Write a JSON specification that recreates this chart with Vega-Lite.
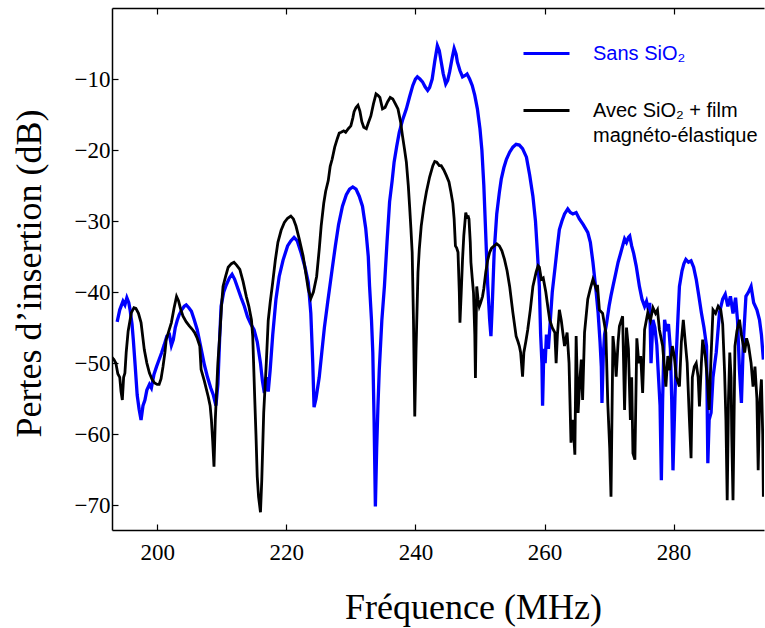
{
  "$schema": "https://vega.github.io/schema/vega-lite/v6.json",
  "width": 652,
  "height": 522,
  "autosize": {"type": "none"},
  "padding": {"left": 112, "top": 8, "right": 1, "bottom": 98},
  "background": "white",
  "config": {
    "view": {"stroke": null},
    "axis": {"domainColor": "#000", "domainWidth": 1.5, "tickColor": "#000", "tickWidth": 1.2, "grid": false, "labelColor": "#000", "titleColor": "#000", "labelFont": "Liberation Serif", "titleFont": "Liberation Serif", "titleFontWeight": "normal"}
  },
  "datasets": {
    "sans": [
      {"f":193.8,"v":-44.2},{"f":194.2,"v":-42.5},{"f":194.7,"v":-41.3},{"f":195.0,"v":-41.8},{"f":195.3,"v":-40.8},{"f":195.6,"v":-41.5},{"f":195.8,"v":-42.5},{"f":196.1,"v":-44.5},{"f":196.3,"v":-46.7},{"f":196.6,"v":-50.5},{"f":196.9,"v":-54.5},{"f":197.2,"v":-56.5},{"f":197.5,"v":-58},{"f":197.8,"v":-56},{"f":198.1,"v":-55.2},{"f":198.4,"v":-53.8},{"f":198.8,"v":-53},{"f":199.1,"v":-53.5},{"f":199.5,"v":-51.6},{"f":199.9,"v":-50.5},{"f":200.3,"v":-49.5},{"f":200.7,"v":-48.5},{"f":201.1,"v":-47.4},{"f":201.5,"v":-46.2},{"f":201.9,"v":-46},{"f":202.2,"v":-47.5},{"f":202.5,"v":-46.7},{"f":202.8,"v":-45},{"f":203.1,"v":-44},{"f":203.4,"v":-43.2},{"f":203.8,"v":-42.5},{"f":204.2,"v":-42},{"f":204.5,"v":-41.8},{"f":204.9,"v":-42.2},{"f":205.3,"v":-42.7},{"f":205.7,"v":-43.8},{"f":206.2,"v":-45.3},{"f":206.7,"v":-47.5},{"f":207.3,"v":-50.2},{"f":207.8,"v":-52},{"f":208.3,"v":-53.5},{"f":208.7,"v":-54.5},{"f":209.1,"v":-56},{"f":209.4,"v":-53},{"f":209.7,"v":-46},{"f":209.9,"v":-42},{"f":210.3,"v":-40},{"f":210.7,"v":-39},{"f":211.2,"v":-38},{"f":211.6,"v":-37.5},{"f":212.0,"v":-38.2},{"f":212.5,"v":-39.5},{"f":213.0,"v":-40.8},{"f":213.5,"v":-42},{"f":214.0,"v":-43.5},{"f":214.5,"v":-44.5},{"f":215.0,"v":-45.3},{"f":215.5,"v":-47},{"f":216.0,"v":-50},{"f":216.3,"v":-52.5},{"f":216.6,"v":-54.2},{"f":216.9,"v":-52},{"f":217.2,"v":-54},{"f":217.5,"v":-51},{"f":217.9,"v":-46},{"f":218.4,"v":-41},{"f":218.9,"v":-37.8},{"f":219.5,"v":-35.5},{"f":220.2,"v":-33.5},{"f":220.7,"v":-32.8},{"f":221.2,"v":-32.3},{"f":221.7,"v":-32.8},{"f":222.3,"v":-34.5},{"f":222.9,"v":-36.5},{"f":223.4,"v":-38.6},{"f":223.8,"v":-43},{"f":224.1,"v":-50},{"f":224.3,"v":-56.2},{"f":224.6,"v":-55},{"f":225.1,"v":-52},{"f":225.5,"v":-48.5},{"f":225.9,"v":-45},{"f":226.4,"v":-41.5},{"f":227.1,"v":-36.8},{"f":227.6,"v":-33.5},{"f":228.1,"v":-30.5},{"f":228.7,"v":-27.9},{"f":229.3,"v":-26.3},{"f":229.8,"v":-25.5},{"f":230.3,"v":-25.2},{"f":230.8,"v":-25.5},{"f":231.3,"v":-26.5},{"f":231.8,"v":-27.9},{"f":232.3,"v":-31},{"f":232.7,"v":-35},{"f":232.9,"v":-39.2},{"f":233.2,"v":-44},{"f":233.4,"v":-48.5},{"f":233.6,"v":-58},{"f":233.8,"v":-70.2},{"f":234.0,"v":-62},{"f":234.2,"v":-56},{"f":234.4,"v":-51},{"f":234.8,"v":-44},{"f":235.2,"v":-39.2},{"f":235.6,"v":-33},{"f":236.0,"v":-27.3},{"f":236.4,"v":-24.3},{"f":236.7,"v":-21.7},{"f":237.1,"v":-19.5},{"f":237.5,"v":-17.5},{"f":238.0,"v":-15.8},{"f":238.6,"v":-14.2},{"f":239.1,"v":-12.5},{"f":239.6,"v":-10.9},{"f":240.0,"v":-10},{"f":240.3,"v":-9.7},{"f":240.7,"v":-10},{"f":241.1,"v":-10.4},{"f":241.5,"v":-11.1},{"f":241.9,"v":-11.6},{"f":242.2,"v":-11.2},{"f":242.6,"v":-10},{"f":243.0,"v":-7.5},{"f":243.4,"v":-5.3},{"f":243.7,"v":-6},{"f":244.0,"v":-7.6},{"f":244.3,"v":-9.2},{"f":244.7,"v":-10.7},{"f":245.0,"v":-10.2},{"f":245.3,"v":-9},{"f":245.7,"v":-7},{"f":246.0,"v":-5.7},{"f":246.3,"v":-6.5},{"f":246.5,"v":-7.6},{"f":246.9,"v":-8.8},{"f":247.3,"v":-9.7},{"f":247.7,"v":-9.5},{"f":248.0,"v":-9.3},{"f":248.4,"v":-10},{"f":248.8,"v":-10.9},{"f":249.2,"v":-12.3},{"f":249.6,"v":-14.2},{"f":250.0,"v":-17},{"f":250.3,"v":-20},{"f":250.6,"v":-25},{"f":250.9,"v":-32},{"f":251.2,"v":-39},{"f":251.5,"v":-43.9},{"f":251.7,"v":-46.2},{"f":251.9,"v":-42},{"f":252.2,"v":-34.4},{"f":252.6,"v":-29},{"f":253.0,"v":-26},{"f":253.3,"v":-24.1},{"f":253.7,"v":-22.5},{"f":254.1,"v":-21.3},{"f":254.6,"v":-20.3},{"f":255.1,"v":-19.6},{"f":255.6,"v":-19.2},{"f":256.1,"v":-19.3},{"f":256.6,"v":-19.8},{"f":257.2,"v":-21},{"f":257.7,"v":-23.5},{"f":258.2,"v":-26.5},{"f":258.6,"v":-30},{"f":258.9,"v":-34.4},{"f":259.2,"v":-39.2},{"f":259.4,"v":-46},{"f":259.6,"v":-50},{"f":259.7,"v":-56},{"f":259.9,"v":-48},{"f":260.1,"v":-50},{"f":260.3,"v":-46},{"f":260.6,"v":-48},{"f":260.9,"v":-44},{"f":261.2,"v":-40},{"f":261.6,"v":-36.8},{"f":262.0,"v":-33.5},{"f":262.3,"v":-31.2},{"f":262.7,"v":-30},{"f":263.1,"v":-29},{"f":263.6,"v":-28.3},{"f":264.0,"v":-28.8},{"f":264.4,"v":-29},{"f":264.9,"v":-28.8},{"f":265.4,"v":-29.7},{"f":266.0,"v":-30.5},{"f":266.7,"v":-31.6},{"f":267.1,"v":-33},{"f":267.5,"v":-35.8},{"f":268.0,"v":-40},{"f":268.3,"v":-42.9},{"f":268.6,"v":-47},{"f":268.8,"v":-50.5},{"f":268.9,"v":-55.6},{"f":269.1,"v":-49},{"f":269.3,"v":-46},{"f":269.6,"v":-44.5},{"f":270.0,"v":-42},{"f":270.3,"v":-40.5},{"f":270.6,"v":-39.2},{"f":271.0,"v":-37.5},{"f":271.4,"v":-35.8},{"f":271.8,"v":-34.5},{"f":272.1,"v":-33.5},{"f":272.4,"v":-32.5},{"f":272.7,"v":-33},{"f":273.0,"v":-32.3},{"f":273.2,"v":-32.1},{"f":273.5,"v":-33.5},{"f":273.8,"v":-34.5},{"f":274.2,"v":-36.3},{"f":274.7,"v":-39.2},{"f":275.1,"v":-41},{"f":275.5,"v":-42},{"f":275.8,"v":-41.3},{"f":276.1,"v":-42.5},{"f":276.3,"v":-41.5},{"f":276.5,"v":-50},{"f":276.8,"v":-43.9},{"f":277.1,"v":-45},{"f":277.4,"v":-47.5},{"f":277.6,"v":-51},{"f":277.9,"v":-56},{"f":278.1,"v":-66.5},{"f":278.3,"v":-55},{"f":278.6,"v":-43.9},{"f":278.9,"v":-45.5},{"f":279.2,"v":-44.5},{"f":279.5,"v":-48},{"f":279.7,"v":-55},{"f":279.9,"v":-65.1},{"f":280.2,"v":-55},{"f":280.4,"v":-49},{"f":280.7,"v":-43},{"f":280.9,"v":-39.2},{"f":281.3,"v":-37},{"f":281.6,"v":-36},{"f":281.9,"v":-35.4},{"f":282.3,"v":-35.8},{"f":282.7,"v":-35.6},{"f":283.1,"v":-36.5},{"f":283.5,"v":-38.2},{"f":283.9,"v":-40.5},{"f":284.3,"v":-42.9},{"f":284.7,"v":-45},{"f":285.1,"v":-47.6},{"f":285.3,"v":-64.1},{"f":285.5,"v":-58},{"f":285.8,"v":-57},{"f":286.1,"v":-52},{"f":286.6,"v":-48.5},{"f":287.1,"v":-42.9},{"f":287.6,"v":-41},{"f":288.0,"v":-40.3},{"f":288.4,"v":-42},{"f":288.8,"v":-40.6},{"f":289.2,"v":-43},{"f":289.6,"v":-40.8},{"f":289.9,"v":-44},{"f":290.2,"v":-51},{"f":290.5,"v":-55.6},{"f":290.8,"v":-47},{"f":291.2,"v":-40.6},{"f":291.6,"v":-40},{"f":292.0,"v":-39.2},{"f":292.4,"v":-41.5},{"f":292.9,"v":-42.5},{"f":293.3,"v":-43.9},{"f":293.6,"v":-46},{"f":293.9,"v":-49.5}
    ],
    "avec": [
      {"f":192.9,"v":-49.1},{"f":193.3,"v":-49.5},{"f":193.6,"v":-50},{"f":193.9,"v":-51.5},{"f":194.2,"v":-52},{"f":194.4,"v":-54},{"f":194.6,"v":-55.2},{"f":194.8,"v":-52},{"f":195.0,"v":-51.4},{"f":195.2,"v":-48.5},{"f":195.5,"v":-45.5},{"f":196.0,"v":-42.9},{"f":196.4,"v":-42.2},{"f":196.7,"v":-42.3},{"f":197.1,"v":-43},{"f":197.5,"v":-44.3},{"f":198.0,"v":-48.1},{"f":198.4,"v":-50},{"f":198.8,"v":-51.4},{"f":199.2,"v":-52.3},{"f":199.6,"v":-52.8},{"f":200.0,"v":-53},{"f":200.3,"v":-53},{"f":200.6,"v":-52.2},{"f":200.9,"v":-50.5},{"f":201.2,"v":-48.5},{"f":201.4,"v":-46.7},{"f":201.8,"v":-45.5},{"f":202.2,"v":-44.3},{"f":202.6,"v":-42.3},{"f":203.0,"v":-40.6},{"f":203.3,"v":-41.2},{"f":203.6,"v":-42.3},{"f":204.0,"v":-43.4},{"f":204.5,"v":-44.2},{"f":205.0,"v":-44.8},{"f":205.4,"v":-45.2},{"f":205.8,"v":-45.7},{"f":206.2,"v":-46.5},{"f":206.6,"v":-47.6},{"f":206.8,"v":-50.9},{"f":207.3,"v":-52.5},{"f":207.9,"v":-54.7},{"f":208.2,"v":-56},{"f":208.4,"v":-58},{"f":208.6,"v":-61},{"f":208.8,"v":-64.6},{"f":209.0,"v":-58},{"f":209.2,"v":-54},{"f":209.4,"v":-50},{"f":209.7,"v":-46},{"f":210.0,"v":-41.5},{"f":210.2,"v":-39.2},{"f":210.6,"v":-37.8},{"f":211.0,"v":-36.5},{"f":211.5,"v":-36},{"f":211.9,"v":-35.8},{"f":212.3,"v":-36.2},{"f":212.8,"v":-36.8},{"f":213.3,"v":-38.5},{"f":213.8,"v":-40.6},{"f":214.2,"v":-42},{"f":214.6,"v":-43.9},{"f":214.8,"v":-46.2},{"f":215.1,"v":-54.7},{"f":215.3,"v":-60},{"f":215.5,"v":-66},{"f":215.7,"v":-68.8},{"f":216.0,"v":-71},{"f":216.2,"v":-66.5},{"f":216.5,"v":-57},{"f":216.9,"v":-50},{"f":217.2,"v":-44},{"f":217.5,"v":-41.5},{"f":217.9,"v":-38.6},{"f":218.3,"v":-35.5},{"f":218.7,"v":-33},{"f":219.2,"v":-31.3},{"f":219.7,"v":-30.2},{"f":220.2,"v":-29.6},{"f":220.7,"v":-29.3},{"f":221.1,"v":-29.7},{"f":221.5,"v":-30.7},{"f":222.0,"v":-32.5},{"f":222.6,"v":-34.9},{"f":223.0,"v":-37.2},{"f":223.4,"v":-39.6},{"f":223.8,"v":-40.9},{"f":224.2,"v":-40},{"f":224.7,"v":-37.8},{"f":225.1,"v":-34},{"f":225.4,"v":-30.7},{"f":225.8,"v":-27.5},{"f":226.1,"v":-25.8},{"f":226.5,"v":-24.3},{"f":226.8,"v":-22.3},{"f":227.1,"v":-21.3},{"f":227.5,"v":-19.6},{"f":227.9,"v":-18.4},{"f":228.2,"v":-17.6},{"f":228.5,"v":-17.5},{"f":228.9,"v":-17.3},{"f":229.2,"v":-17.5},{"f":229.6,"v":-17},{"f":230.0,"v":-16.6},{"f":230.3,"v":-15.5},{"f":230.5,"v":-14.6},{"f":230.8,"v":-14},{"f":231.1,"v":-13.7},{"f":231.4,"v":-14.5},{"f":231.7,"v":-16},{"f":232.0,"v":-16.8},{"f":232.4,"v":-17},{"f":232.7,"v":-16.2},{"f":233.1,"v":-15.2},{"f":233.5,"v":-13.5},{"f":233.9,"v":-12.1},{"f":234.2,"v":-12.3},{"f":234.5,"v":-12.6},{"f":234.9,"v":-14.2},{"f":235.3,"v":-14},{"f":235.7,"v":-13.2},{"f":236.1,"v":-12.6},{"f":236.5,"v":-12.8},{"f":236.9,"v":-13.5},{"f":237.3,"v":-14.2},{"f":237.7,"v":-16},{"f":238.0,"v":-18},{"f":238.3,"v":-19.8},{"f":238.6,"v":-21.7},{"f":238.9,"v":-25},{"f":239.1,"v":-27.9},{"f":239.3,"v":-31},{"f":239.5,"v":-34.4},{"f":239.7,"v":-43.9},{"f":239.9,"v":-57.5},{"f":240.1,"v":-48},{"f":240.4,"v":-37.2},{"f":240.6,"v":-34},{"f":240.9,"v":-30.7},{"f":241.3,"v":-28},{"f":241.7,"v":-25.9},{"f":242.2,"v":-23.8},{"f":242.7,"v":-22.2},{"f":243.0,"v":-21.6},{"f":243.3,"v":-21.7},{"f":243.7,"v":-22.2},{"f":244.0,"v":-22.2},{"f":244.4,"v":-22.8},{"f":244.8,"v":-23.6},{"f":245.2,"v":-24.5},{"f":245.5,"v":-25.9},{"f":245.8,"v":-27.5},{"f":246.0,"v":-29.7},{"f":246.2,"v":-33.5},{"f":246.4,"v":-33.8},{"f":246.6,"v":-34.4},{"f":246.8,"v":-40},{"f":246.9,"v":-44.3},{"f":247.1,"v":-40},{"f":247.3,"v":-35.4},{"f":247.5,"v":-32},{"f":247.8,"v":-28.8},{"f":248.0,"v":-29.5},{"f":248.2,"v":-29.4},{"f":248.3,"v":-29.7},{"f":248.5,"v":-33},{"f":248.6,"v":-35.8},{"f":248.8,"v":-38},{"f":249.0,"v":-40.1},{"f":249.2,"v":-46},{"f":249.3,"v":-52.1},{"f":249.4,"v":-45},{"f":249.5,"v":-39.2},{"f":249.7,"v":-41},{"f":249.9,"v":-42},{"f":250.1,"v":-41.5},{"f":250.4,"v":-40.6},{"f":250.6,"v":-39.5},{"f":250.9,"v":-37.2},{"f":251.2,"v":-35.5},{"f":251.5,"v":-34.4},{"f":251.8,"v":-33.8},{"f":252.2,"v":-33.5},{"f":252.6,"v":-33.2},{"f":253.0,"v":-33.5},{"f":253.4,"v":-34.2},{"f":253.8,"v":-35.4},{"f":254.2,"v":-37},{"f":254.6,"v":-39.2},{"f":255.1,"v":-42.9},{"f":255.6,"v":-46.2},{"f":255.9,"v":-47},{"f":256.1,"v":-47.6},{"f":256.3,"v":-48.5},{"f":256.6,"v":-51.9},{"f":256.8,"v":-48.5},{"f":257.1,"v":-47},{"f":257.4,"v":-45.3},{"f":257.8,"v":-42.5},{"f":258.2,"v":-39.2},{"f":258.7,"v":-37.2},{"f":259.0,"v":-36.3},{"f":259.2,"v":-36.5},{"f":259.5,"v":-38.2},{"f":259.8,"v":-38},{"f":260.2,"v":-40},{"f":260.5,"v":-42},{"f":260.8,"v":-43.9},{"f":261.2,"v":-45},{"f":261.6,"v":-45.7},{"f":261.8,"v":-50},{"f":262.0,"v":-46},{"f":262.3,"v":-42.5},{"f":262.6,"v":-44},{"f":263.1,"v":-47.6},{"f":263.5,"v":-45.7},{"f":263.8,"v":-50},{"f":264.1,"v":-61.2},{"f":264.4,"v":-58},{"f":264.7,"v":-62.9},{"f":264.9,"v":-46.2},{"f":265.2,"v":-57},{"f":265.5,"v":-52},{"f":265.7,"v":-49.5},{"f":265.9,"v":-55.2},{"f":266.2,"v":-45.7},{"f":266.7,"v":-41},{"f":267.1,"v":-39.5},{"f":267.5,"v":-38.2},{"f":268.0,"v":-39.5},{"f":268.2,"v":-39},{"f":268.5,"v":-42.5},{"f":269.0,"v":-43},{"f":269.5,"v":-45.7},{"f":269.8,"v":-55.6},{"f":270.1,"v":-62},{"f":270.3,"v":-68.8},{"f":270.6,"v":-46.2},{"f":270.9,"v":-49},{"f":271.1,"v":-51.9},{"f":271.4,"v":-47},{"f":271.6,"v":-44.8},{"f":272.1,"v":-43.4},{"f":272.4,"v":-56.6},{"f":272.7,"v":-45},{"f":273.0,"v":-48},{"f":273.3,"v":-58},{"f":273.5,"v":-52},{"f":273.7,"v":-62.7},{"f":274.0,"v":-63.6},{"f":274.3,"v":-46.5},{"f":274.6,"v":-50},{"f":274.9,"v":-49},{"f":275.2,"v":-54.2},{"f":275.5,"v":-45.3},{"f":276.0,"v":-42.9},{"f":276.4,"v":-44},{"f":276.8,"v":-42.2},{"f":277.2,"v":-43},{"f":277.5,"v":-42.5},{"f":277.8,"v":-45.3},{"f":278.3,"v":-47.6},{"f":278.8,"v":-53.3},{"f":279.1,"v":-49},{"f":279.4,"v":-51},{"f":279.8,"v":-47.6},{"f":280.1,"v":-49},{"f":280.4,"v":-51.9},{"f":280.9,"v":-53.3},{"f":281.2,"v":-47},{"f":281.5,"v":-43.9},{"f":281.8,"v":-47},{"f":282.1,"v":-50},{"f":282.4,"v":-57},{"f":282.7,"v":-63.4},{"f":282.9,"v":-52},{"f":283.2,"v":-50.5},{"f":283.5,"v":-50},{"f":283.8,"v":-52},{"f":284.0,"v":-56.1},{"f":284.3,"v":-50},{"f":284.5,"v":-46.7},{"f":284.9,"v":-49},{"f":285.2,"v":-52},{"f":285.5,"v":-56.6},{"f":285.8,"v":-49},{"f":286.1,"v":-42.5},{"f":286.5,"v":-43},{"f":286.9,"v":-42},{"f":287.3,"v":-42.5},{"f":287.6,"v":-44.5},{"f":287.9,"v":-51.4},{"f":288.1,"v":-58},{"f":288.3,"v":-69.3},{"f":288.5,"v":-55},{"f":288.7,"v":-48.5},{"f":288.9,"v":-52},{"f":289.0,"v":-60},{"f":289.2,"v":-69.3},{"f":289.4,"v":-55},{"f":289.5,"v":-47.6},{"f":289.8,"v":-45.5},{"f":290.2,"v":-43.9},{"f":290.5,"v":-46},{"f":291.0,"v":-48.5},{"f":291.3,"v":-46.5},{"f":291.6,"v":-47.5},{"f":292.0,"v":-50},{"f":292.3,"v":-53.3},{"f":292.6,"v":-50.5},{"f":292.9,"v":-55},{"f":293.1,"v":-65.1},{"f":293.3,"v":-56},{"f":293.6,"v":-52.3},{"f":293.8,"v":-60},{"f":293.9,"v":-68.8},{"f":294.0,"v":-62}
    ]
  },
  "layer": [
    {
      "data": {"name": "sans"},
      "transform": [{"calculate": "'Sans SiO₂'", "as": "serie"}],
      "mark": {"type": "line", "strokeWidth": 3.3, "clip": true, "interpolate": "linear"},
      "encoding": {
        "x": {"field": "f", "type": "quantitative", "scale": {"domain": [193, 294], "nice": false, "zero": false},
          "axis": {"orient": "bottom", "values": [200, 220, 240, 260, 280], "tickSize": -6, "labelPadding": 35, "labelBaseline": "alphabetic", "labelFontSize": 23, "title": "Fréquence (MHz)", "titleFontSize": 36, "titleX": 361, "titleY": 88, "titleBaseline": "alphabetic", "titleAnchor": null, "titleAlign": "center"}},
        "y": {"field": "v", "type": "quantitative", "scale": {"domain": [-73.5, 0], "nice": false, "zero": false},
          "axis": {"orient": "left", "values": [-70, -60, -50, -40, -30, -20, -10], "tickSize": -6, "labelPadding": 8, "labelFontSize": 23, "title": "Pertes d’insertion (dB)", "titleFontSize": 36, "titleX": -72, "titleY": 265, "titleAngle": -90, "titleBaseline": "alphabetic", "titleAlign": "center", "titleAnchor": null}},
        "color": {"field": "serie", "type": "nominal",
          "scale": {"domain": ["Sans SiO₂", "Avec SiO₂ + film magnéto-élastique"], "range": ["#0000ff", "#000000"]},
          "legend": {"orient": "none", "legendX": 410, "legendY": 21, "title": null, "padding": 0,
            "symbolType": "stroke", "symbolSize": 2116, "symbolStrokeWidth": 3,
            "labelFont": "Liberation Sans", "labelFontSize": 20, "labelOffset": 22, "rowPadding": 22, "labelLimit": 400,
            "labelExpr": "datum.value == 'Sans SiO₂' ? datum.label : ['Avec SiO₂ + film', 'magnéto-élastique']",
            "encode": {"labels": {"update": {"fill": {"signal": "datum.value == 'Sans SiO₂' ? '#0000ff' : '#000000'"}, "lineHeight": {"value": 25}}}}}}
      }
    },
    {
      "data": {"name": "avec"},
      "transform": [{"calculate": "'Avec SiO₂ + film magnéto-élastique'", "as": "serie"}],
      "mark": {"type": "line", "strokeWidth": 2.8, "clip": true, "interpolate": "linear"},
      "encoding": {
        "x": {"field": "f", "type": "quantitative",
          "axis": {"orient": "top", "values": [200, 220, 240, 260, 280], "tickSize": -6, "labels": false, "title": null}},
        "y": {"field": "v", "type": "quantitative"},
        "color": {"field": "serie", "type": "nominal"}
      }
    }
  ],
  "resolve": {"axis": {"x": "independent"}}
}
